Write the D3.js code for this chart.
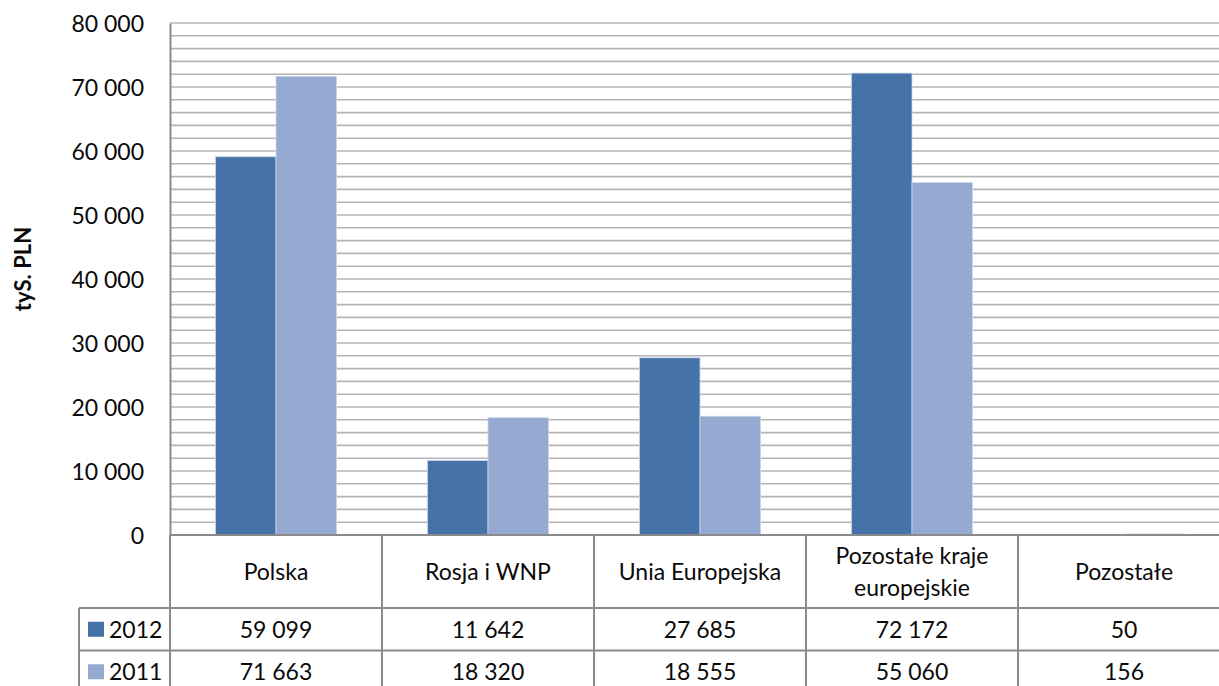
<!DOCTYPE html>
<html>
<head>
<meta charset="utf-8">
<script src="https://cdn.jsdelivr.net/npm/d3@7"></script>
<style>
    html, body { margin: 0; padding: 0; background: #fff; overflow: hidden; }
    svg { display: block; font-family: Lato, "Open Sans", sans-serif; }
</style>
</head>
<body>
<div id="chart"></div>
<script>
// ============================================================================
// DATA
// ============================================================================

const categories = ["Polska", "Rosja i WNP", "Unia Europejska", "Pozostałe kraje europejskie", "Pozostałe"];
const seriesNames = ["2012", "2011"];
const values2012 = [59099, 11642, 27685, 72172, 50];
const values2011 = [71663, 18320, 18555, 55060, 156];
const yTicks = [0, 10000, 20000, 30000, 40000, 50000, 60000, 70000, 80000];
const yTitle = "tyS. PLN";

const seriesValues = { "2012": values2012, "2011": values2011 };
const colors = { "2012": "#4572A7", "2011": "#95A9D1" };


// ============================================================================
// SETUP
// ============================================================================

const W = 1219, H = 686;
const plotLeft = 170, plotTop = 23, plotBottom = 535;
const colW = 212;
const row1 = 608, row2 = 650.5, row3 = 693;
const legendLeft = 79;
const FONT = 23;
const INK = "#0a0a0a";

const svg = d3.select("#chart")
    .append("svg")
    .attr("width", W)
    .attr("height", H);

const locale = d3.formatLocale({ decimal: ",", thousands: "\u00a0", grouping: [3], currency: ["", ""] });
const fmt = locale.format(",d");

const x = d3.scaleBand()
    .domain(categories)
    .range([plotLeft, plotLeft + colW * categories.length])
    .paddingInner(0)
    .paddingOuter(0);

const xSub = d3.scaleBand()
    .domain(seriesNames)
    .range([0, x.bandwidth()])
    .paddingInner(0)
    .paddingOuter(0.75);

const y = d3.scaleLinear()
    .domain([0, 80000])
    .range([plotBottom, plotTop]);


// ============================================================================
// GRID + AXIS
// ============================================================================

// minor gridlines every 2 000
svg.append("g")
    .selectAll("line")
    .data(d3.range(2000, 80001, 2000))
    .join("line")
    .attr("x1", plotLeft).attr("x2", W)
    .attr("y1", d => y(d)).attr("y2", d => y(d))
    .attr("stroke", "#b5b5b5")
    .attr("stroke-width", 1.6);

const yAxis = svg.append("g")
    .attr("transform", `translate(${plotLeft},0)`)
    .call(d3.axisLeft(y).tickValues(yTicks).tickSize(0).tickPadding(26).tickFormat(fmt));

yAxis.select(".domain")
    .attr("stroke", "#8a8a8a")
    .attr("stroke-width", 2);

yAxis.selectAll("text")
    .attr("font-family", "Lato, 'Open Sans', sans-serif")
    .attr("font-size", FONT)
    .attr("fill", INK)
    .attr("dy", "0.36em");

svg.append("text")
    .attr("transform", `translate(31,${(plotTop + plotBottom) / 2 - 10}) rotate(-90)`)
    .attr("text-anchor", "middle")
    .attr("font-weight", "bold")
    .attr("font-size", FONT - 1)
    .attr("fill", INK)
    .text(yTitle);


// ============================================================================
// BARS
// ============================================================================

const groups = svg.append("g")
    .selectAll("g")
    .data(categories)
    .join("g")
    .attr("transform", d => `translate(${x(d)},0)`);

groups.selectAll("rect")
    .data((c, i) => seriesNames.map(s => ({ s, v: seriesValues[s][i] })))
    .join("rect")
    .attr("x", d => xSub(d.s))
    .attr("width", xSub.bandwidth())
    .attr("y", d => y(d.v))
    .attr("height", d => plotBottom - y(d.v))
    .attr("fill", d => colors[d.s])
    .attr("stroke", "#c9d5ea")
    .attr("stroke-width", 0.8);


// ============================================================================
// DATA TABLE
// ============================================================================

const table = svg.append("g")
    .attr("stroke", "#8a8a8a")
    .attr("stroke-width", 2);

// bottom axis line / table top
table.append("line")
    .attr("x1", plotLeft).attr("x2", W)
    .attr("y1", plotBottom).attr("y2", plotBottom);

[row1, row2].forEach(ry => {
    table.append("line")
        .attr("x1", legendLeft).attr("x2", W)
        .attr("y1", ry).attr("y2", ry);
});

table.append("line")
    .attr("x1", legendLeft).attr("x2", legendLeft)
    .attr("y1", row1).attr("y2", row3);

table.selectAll("line.col")
    .data(categories.map(c => x(c)).concat([x.range()[1]]))
    .join("line")
    .attr("class", "col")
    .attr("x1", d => d).attr("x2", d => d)
    .attr("y1", plotBottom).attr("y2", row3);

// category headers (wrapped)
const headers = svg.append("g")
    .selectAll("text")
    .data(categories)
    .join("text")
    .attr("text-anchor", "middle")
    .attr("font-size", FONT)
    .attr("fill", INK);

headers.each(function (d) {
    const t = d3.select(this);
    const cx = x(d) + x.bandwidth() / 2;
    const words = d.split(" ");
    const lines = [];
    let line = [];
    words.forEach(w => {
        line.push(w);
        t.text(line.join(" "));
        if (this.getComputedTextLength() > x.bandwidth() - 24 && line.length > 1) {
            line.pop();
            lines.push(line.join(" "));
            line = [w];
        }
    });
    lines.push(line.join(" "));
    t.text(null);
    const lh = 32;
    const cy = (plotBottom + row1) / 2 - (lines.length - 1) * lh / 2;
    lines.forEach((l, i) => {
        t.append("tspan")
            .attr("x", cx)
            .attr("y", cy + i * lh)
            .attr("dy", "0.36em")
            .text(l);
    });
});

// value rows
const rows = [
    { s: "2012", top: row1, bottom: row2 },
    { s: "2011", top: row2, bottom: row3 }
];

rows.forEach(r => {
    const cy = (r.top + r.bottom) / 2;

    svg.append("rect")
        .attr("x", 88).attr("y", cy - 7.5)
        .attr("width", 16).attr("height", 15)
        .attr("fill", colors[r.s]);

    svg.append("text")
        .attr("x", 109).attr("y", cy)
        .attr("dy", "0.36em")
        .attr("font-size", FONT)
        .attr("fill", INK)
        .text(r.s);

    svg.append("g")
        .selectAll("text")
        .data(categories)
        .join("text")
        .attr("x", d => x(d) + x.bandwidth() / 2)
        .attr("y", cy)
        .attr("dy", "0.36em")
        .attr("text-anchor", "middle")
        .attr("font-size", FONT)
        .attr("fill", INK)
        .text((d, i) => fmt(seriesValues[r.s][i]));
});
</script>
</body>
</html>
